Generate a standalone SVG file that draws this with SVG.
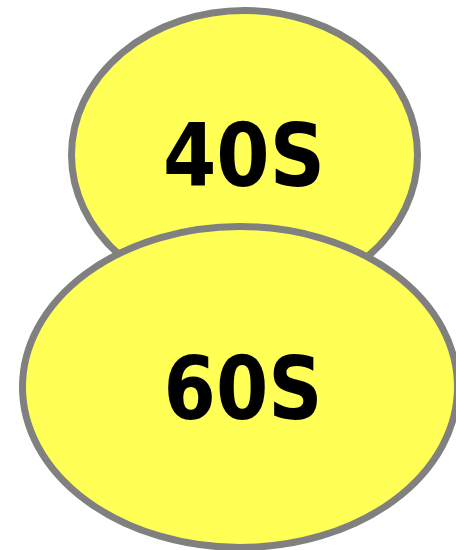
<svg xmlns="http://www.w3.org/2000/svg" width="456" height="550" viewBox="0 0 456 550">
<style>
.n{fill:#ffff55;stroke:#808080;stroke-width:7}
.t{font-family:"DejaVu Sans",sans-serif;font-weight:bold;font-size:88px;fill:#000;text-anchor:middle}
</style>
<rect width="456" height="550" fill="#fff"/>
<g id="connectors"></g>
<g id="n40s">
<ellipse class="n" cx="244.5" cy="155" rx="173" ry="144.5"/>
<text class="t" x="244" y="186" textLength="162" lengthAdjust="spacingAndGlyphs">40S</text>
</g>
<g id="n60s">
<ellipse class="n" cx="240" cy="387" rx="217.5" ry="160.5"/>
<text class="t" x="243" y="419" textLength="159" lengthAdjust="spacingAndGlyphs">60S</text>
</g>
</svg>
